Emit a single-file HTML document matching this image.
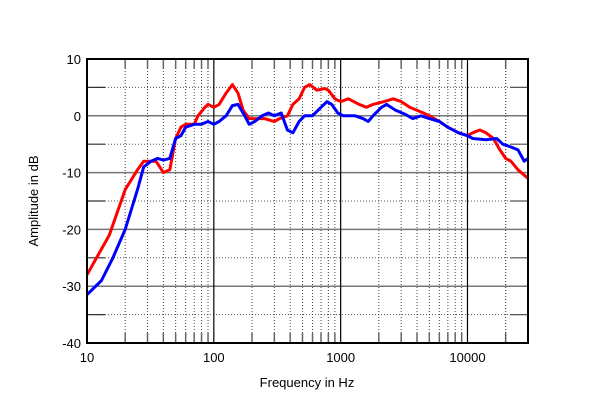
<!DOCTYPE html>
<html><head><meta charset="utf-8"><style>
html,body{margin:0;padding:0;background:#fff;}
svg text{font-family:"Liberation Sans",Arial,sans-serif;font-size:13px;fill:#000;}
</style></head><body>
<svg id="chart" width="600" height="409" viewBox="0 0 600 409">
<g id="grid"></g>
<g id="series"></g>
<rect x="87" y="59" width="441" height="284" fill="none" stroke="#000" stroke-width="2"/>
<g id="labels"></g>
<text x="307" y="387" text-anchor="middle">Frequency in Hz</text>
<text transform="translate(38,201) rotate(-90)" text-anchor="middle">Amplitude in dB</text>
</svg>
<script>
const xTicks=[10,100,1000,10000];
const xTickLabels=["10","100","1000","10000"];
const yTicks=[10,0,-10,-20,-30,-40];
const yTickLabels=["10","0","-10","-20","-30","-40"];
const redFreq=[10,15,20,25,28,30,35,40,45,50,55,60,70,75,85,90,100,110,125,140,155,170,190,220,250,300,330,380,420,470,520,570,650,750,800,900,1000,1150,1400,1600,1800,2200,2600,3000,3500,4500,5000,6000,7000,8500,10000,11000,12500,14000,16000,18000,20000,22000,25000,30000];
const redDb=[-28,-21,-13,-9.5,-8,-8,-8,-10,-9.5,-4,-2,-1.5,-1.5,0,1.5,2,1.5,2,4,5.5,4,1,-0.5,-0.5,-0.5,-1,-0.5,0,2,3,5,5.5,4.5,4.8,4.5,3,2.5,3,2,1.5,2,2.5,3,2.5,1.5,0.5,0,-1,-2,-3,-3.5,-3,-2.5,-3,-4,-6,-7.5,-8,-9.5,-11];
const blueFreq=[10,13,16,20,25,28,32,36,40,45,50,55,60,70,80,90,100,110,125,140,155,175,190,210,240,270,300,340,380,420,470,520,600,700,780,850,950,1050,1300,1500,1650,1800,2100,2300,2700,3200,3700,4300,5000,6000,7000,8500,10000,11000,14000,17000,19000,22000,25000,28000,30000];
const blueDb=[-31.5,-29,-25,-20,-13,-9,-8,-7.5,-7.8,-7.5,-4,-3.5,-2,-1.5,-1.5,-1,-1.5,-1,0,1.8,2,0,-1.5,-1,0,0.5,0,0.5,-2.5,-3,-1,0,0,1.5,2.5,2,0.5,0,0,-0.5,-1,0,1.5,2,1,0.3,-0.5,0,-0.5,-1,-2,-3,-3.5,-4,-4.2,-4,-5,-5.5,-6,-8,-7.5];

const L=87,R=528,T=59,B=343;
const x=f=>L+(Math.log10(f)-1)/(Math.log10(30000)-1)*(R-L);
const y=d=>T+(10-d)/50*(B-T);
const NS="http://www.w3.org/2000/svg";
function mk(tag,attrs,parent){const e=document.createElementNS(NS,tag);for(const k in attrs)e.setAttribute(k,attrs[k]);parent.appendChild(e);return e;}
const grid=document.getElementById('grid');
// horizontal lines
for(let d=-35;d<10;d+=5){
  const yy=y(d);
  if(d%10===0){
    const l=mk('line',{x1:L,x2:R,y1:yy,y2:yy,stroke:'#777','stroke-width':1.5},grid);
    
    
  } else {
    const l=mk('line',{x1:L,x2:R,y1:yy,y2:yy,stroke:'#555','stroke-width':1,'stroke-dasharray':'1,2'},grid);
    
    
    mk('line',{x1:L,x2:L+18,y1:yy,y2:yy,stroke:'#333','stroke-width':1.2},grid);
    mk('line',{x1:R-18,x2:R,y1:yy,y2:yy,stroke:'#555','stroke-width':1.2},grid);
  }
}
// vertical lines
for(let dec=10;dec<=10000;dec*=10){
  for(let m=1;m<=9;m++){
    const f=dec*m; if(f>30000)break;
    const xx=x(f);
    if(m===1){
      const l=mk('line',{x1:xx,x2:xx,y1:T,y2:B,stroke:'#000','stroke-width':1.2},grid);
      
      
    } else {
      const l=mk('line',{x1:xx,x2:xx,y1:T,y2:B,stroke:'#444','stroke-width':1,'stroke-dasharray':'1,2'},grid);
      
      
      mk('line',{x1:xx,x2:xx,y1:T,y2:T+10,stroke:'#666','stroke-width':1.5},grid);
      mk('line',{x1:xx,x2:xx,y1:B-10,y2:B,stroke:'#666','stroke-width':1.5},grid);
    }
  }
}
for(let f=20000;f<=30000;f+=10000){const xx=x(f);
  mk('line',{x1:xx,x2:xx,y1:T,y2:B,stroke:'#444','stroke-width':1,'stroke-dasharray':'1,2'},grid);}
const labels=document.getElementById('labels');
xTicks.forEach((f,i)=>{const t=mk('text',{x:x(f),y:B+19,'text-anchor':'middle'},labels);t.textContent=xTickLabels[i];
  
  });
yTicks.forEach((d,i)=>{const t=mk('text',{x:L-6,y:y(d)+5,'text-anchor':'end'},labels);t.textContent=yTickLabels[i];
  
  });
const ser=document.getElementById('series');
function line(fs,ds,color,name){
  const p=fs.map((f,i)=>(i?'L':'M')+x(f).toFixed(1)+','+y(ds[i]).toFixed(1)).join('');
  const e=mk('path',{d:p,fill:'none',stroke:color,'stroke-width':3,'stroke-linejoin':'round'},ser);
  
  
}
line(redFreq,redDb,'#ff0000','red-response-line');
line(blueFreq,blueDb,'#0000ff','blue-response-line');
</script>
</body></html>
